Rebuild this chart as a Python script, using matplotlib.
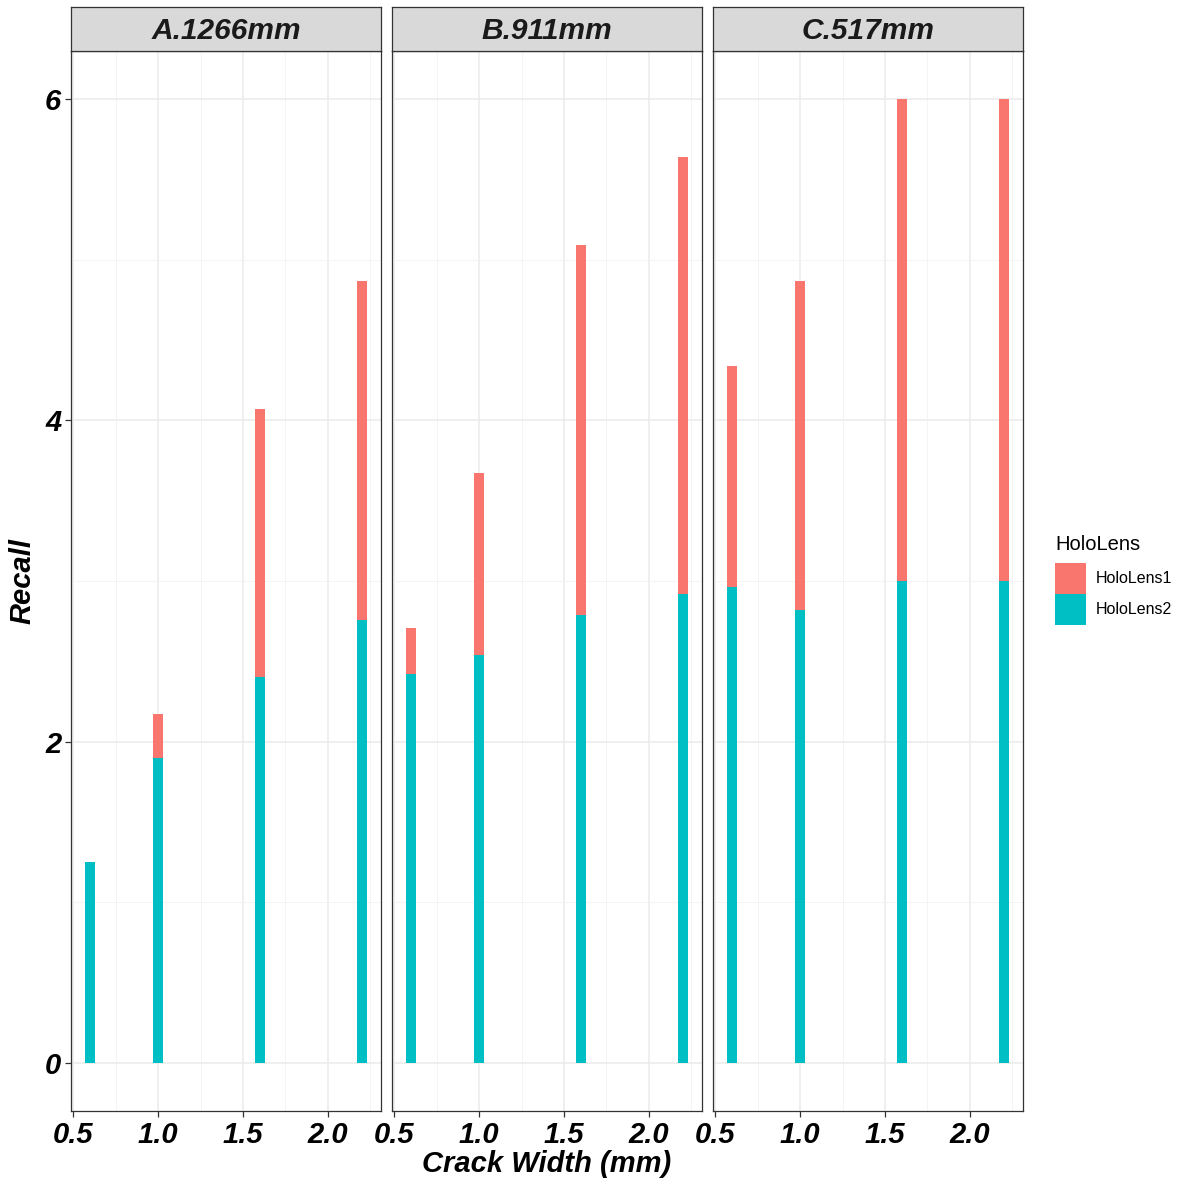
import matplotlib.pyplot as plt
from matplotlib.patches import Patch

plt.rcParams['font.family'] = ['Liberation Sans', 'DejaVu Sans']

# facet labels and bar positions
panels = ["A.1266mm", "B.911mm", "C.517mm"]
crack_width = [0.6, 1.0, 1.6, 2.2]

# recall per device, one row per facet
hololens2 = [
    [1.25, 1.90, 2.40, 2.76],
    [2.42, 2.54, 2.79, 2.92],
    [2.96, 2.82, 3.00, 3.00],
]
hololens1 = [
    [0.00, 0.27, 1.67, 2.11],
    [0.29, 1.13, 2.30, 2.72],
    [1.38, 2.05, 3.00, 3.00],
]

series_names = ["HoloLens1", "HoloLens2"]
colors = {"HoloLens1": "#F8766D", "HoloLens2": "#00BFC4"}

W, H = 1179, 1183
fig = plt.figure(figsize=(W / 100, H / 100), dpi=100)

lefts = [71, 392, 713]
pw = 310
top, bottom = 51, 1111
strip_top = 7
border = "#333333"
tick_font = dict(fontsize=21, fontweight="bold", fontstyle="italic")

for i, name in enumerate(panels):
    ax = fig.add_axes([lefts[i] / W, 1 - bottom / H, pw / W, (bottom - top) / H])
    ax.bar(crack_width, hololens2[i], width=0.062, color=colors["HoloLens2"], zorder=3)
    ax.bar(crack_width, hololens1[i], width=0.062, bottom=hololens2[i],
           color=colors["HoloLens1"], zorder=3)
    ax.set_xlim(0.487, 2.313)
    ax.set_ylim(-0.3, 6.3)
    ax.set_xticks([0.5, 1.0, 1.5, 2.0])
    ax.set_xticks([0.75, 1.25, 1.75, 2.25], minor=True)
    ax.set_yticks([0, 2, 4, 6])
    ax.set_yticks([1, 3, 5], minor=True)
    ax.grid(which="major", color="#EBEBEB", linewidth=1.1, zorder=0)
    ax.grid(which="minor", color="#F2F2F2", linewidth=0.6, zorder=0)
    for s in ax.spines.values():
        s.set_color(border)
        s.set_linewidth(0.9)
    ax.tick_params(which="minor", length=0)
    ax.tick_params(which="major", length=4, color=border, width=0.9, pad=3)
    ax.set_xticklabels(["0.5", "1.0", "1.5", "2.0"], **tick_font)
    if i == 0:
        ax.set_yticklabels(["0", "2", "4", "6"], **tick_font)
        ax.set_ylabel("Recall", fontsize=21, fontweight="bold", fontstyle="italic", labelpad=6)
    else:
        ax.tick_params(axis="y", which="both", left=False, labelleft=False)

    sax = fig.add_axes([lefts[i] / W, 1 - top / H, pw / W, (top - strip_top) / H])
    sax.set_facecolor("#D9D9D9")
    sax.set_xticks([])
    sax.set_yticks([])
    for s in sax.spines.values():
        s.set_color(border)
        s.set_linewidth(0.9)
    sax.text(0.5, 0.45, name, ha="center", va="center", transform=sax.transAxes,
             fontsize=21.5, fontweight="bold", fontstyle="italic", color="#1A1A1A")

fig.text((71 + 1023) / 2 / W, 1 - 1164 / H, "Crack Width (mm)", ha="center", va="center",
         fontsize=21, fontweight="bold", fontstyle="italic")

handles = [Patch(facecolor=colors[n], edgecolor="none") for n in series_names]
leg = fig.legend(handles, series_names, title="HoloLens", loc="upper left",
                 bbox_to_anchor=(1044 / W, 1 - 524 / H), frameon=False,
                 fontsize=11.5, title_fontsize=14.5, handlelength=1.9, handleheight=2.65,
                 handletextpad=0.65, labelspacing=0.0, alignment="left", borderaxespad=0.3)
leg._legend_box.sep = 6

fig.savefig("out.png", dpi=100)
